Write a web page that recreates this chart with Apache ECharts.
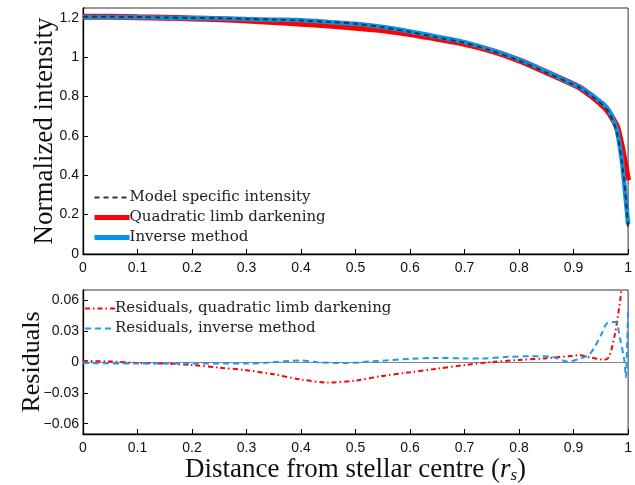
<!DOCTYPE html>
<html><head><meta charset="utf-8">
<script src="https://cdn.jsdelivr.net/npm/echarts@6/dist/echarts.min.js"></script>
<style>html,body{margin:0;padding:0;background:#fff}#c{width:635px;height:485px}</style>
</head><body><div id="c"></div>
<script>
// ---- data ----
const xTop = [0,0.05,0.1,0.15,0.2,0.25,0.3,0.35,0.4,0.45,0.5,0.55,0.6,0.65,0.7,0.75,0.8,0.85,0.9,0.91,0.93,0.95,0.955,0.965,0.975,0.98,0.988,0.995,1.0];
const modelIntensity = [1.205,1.205,1.204,1.202,1.200,1.198,1.195,1.191,1.186,1.179,1.170,1.152,1.128,1.100,1.073,1.032,0.982,0.922,0.860,0.847,0.808,0.765,0.753,0.718,0.655,0.610,0.480,0.310,0.135];
const quadraticLD = [1.206,1.2055,1.203,1.2005,1.197,1.1925,1.187,1.179,1.170,1.161,1.150,1.137,1.118,1.0935,1.068,1.032,0.984,0.924,0.861,0.848,0.809,0.763,0.750,0.718,0.672,0.645,0.552,0.450,0.375];
const inverseMethod = [1.204,1.204,1.2025,1.2005,1.1985,1.1965,1.1935,1.1905,1.1875,1.179,1.1695,1.153,1.131,1.104,1.0765,1.0355,0.987,0.927,0.862,0.850,0.815,0.772,0.762,0.728,0.666,0.622,0.487,0.300,0.150];

const xResQ = [0,0.05,0.1,0.15,0.2,0.25,0.3,0.35,0.4,0.45,0.5,0.55,0.6,0.65,0.7,0.75,0.8,0.85,0.9,0.91,0.93,0.95,0.955,0.965,0.975,0.98,0.988,0.995,1.0];
const resQuadratic = [0.001,0.0005,-0.001,-0.0015,-0.003,-0.0055,-0.008,-0.012,-0.017,-0.020,-0.018,-0.0135,-0.010,-0.0065,-0.003,0.000,0.002,0.0037,0.006,0.0066,0.0045,0.0025,0.002,0.005,0.025,0.040,0.072,0.140,0.240];
const xResI = [0,0.1,0.2,0.3,0.34,0.4,0.43,0.48,0.54,0.6,0.65,0.7,0.73,0.78,0.82,0.86,0.89,0.91,0.927,0.937,0.952,0.961,0.977,0.985,0.993,0.996,0.998,1.0];
const resInverse = [-0.001,-0.0015,-0.0015,-0.0015,-0.0006,0.0015,-0.0003,-0.001,0.001,0.003,0.004,0.0035,0.0035,0.005,0.0056,0.005,0.0003,0.003,0.0066,0.013,0.028,0.0375,0.039,0.023,0.002,-0.015,0.014,0.049];

const resTicks = [-0.06,-0.03,0,0.03,0.06];
const names = ['Model specific intensity','Quadratic limb darkening','Inverse method','Residuals, quadratic limb darkening','Residuals, inverse method'];

const zip = (xs, ys) => xs.map((x,i)=>[x, ys[i]]);
const serif = 'DejaVu Serif';
const titleFont = 'Liberation Serif';
const sans = 'Liberation Sans';

const chart = echarts.init(document.getElementById('c'), null, {renderer:'canvas'});
const axisCommon = {
  axisLine:{onZero:false, lineStyle:{color:'#000', width:1.3}},
  axisTick:{inside:true, length:5, lineStyle:{color:'#000'}},
  splitLine:{show:false},
  axisLabel:{color:'#111', fontFamily:sans, fontSize:14}
};
chart.setOption({
  animation:false,
  grid:[
    {left:83, right:5, top:8, height:246, show:true, borderColor:'#333', borderWidth:1},
    {left:83, right:5, top:290, height:146, show:true, borderColor:'#333', borderWidth:1}
  ],
  xAxis:[
    Object.assign({}, axisCommon, {gridIndex:0, type:'value', min:0, max:1, interval:0.1, axisLabel:Object.assign({}, axisCommon.axisLabel, {margin:7})}),
    Object.assign({}, axisCommon, {gridIndex:1, type:'value', min:0, max:1, interval:0.1, axisLabel:Object.assign({}, axisCommon.axisLabel, {margin:7}),
      name:'{t|Distance from stellar centre (}{i|r}{s|s}{t|)}', nameLocation:'middle', nameGap:21,
      nameTextStyle:{rich:{t:{fontFamily:titleFont, fontSize:27, color:'#111'}, i:{fontFamily:titleFont, fontStyle:'italic', fontSize:27, color:'#111'}, s:{fontFamily:titleFont, fontStyle:'italic', fontSize:17, color:'#111', verticalAlign:'bottom', padding:[12,0,0,0]}}}})
  ],
  yAxis:[
    Object.assign({}, axisCommon, {gridIndex:0, type:'value', min:0, max:1.25, interval:0.2,
      axisLabel:Object.assign({}, axisCommon.axisLabel, {showMaxLabel:false, margin:4}),
      name:'Normalized intensity', nameLocation:'middle', nameGap:25, nameMoveOverlap:false,
      nameTextStyle:{fontFamily:titleFont, fontSize:27, color:'#111'}}),
    Object.assign({}, axisCommon, {gridIndex:1, type:'value', min:-0.07, max:0.07,
      axisLabel:Object.assign({}, axisCommon.axisLabel, {customValues:resTicks, margin:4, formatter:v=>v<0?'\u2212'+Math.abs(v).toFixed(2):(v===0?'0':v.toFixed(2))}),
      axisTick:Object.assign({}, axisCommon.axisTick, {customValues:resTicks}),
      name:'Residuals', nameLocation:'middle', nameGap:38, nameMoveOverlap:false,
      nameTextStyle:{fontFamily:titleFont, fontSize:26, color:'#111'}})
  ],
  legend:[
    {data:[{name:names[0], lineStyle:{width:2}}, {name:names[1], lineStyle:{width:5}}, {name:names[2], lineStyle:{width:5}}],
     orient:'vertical', left:87, top:185, itemWidth:35, itemHeight:10, itemGap:5,
     itemStyle:{opacity:0},
     textStyle:{fontFamily:serif, fontSize:15, color:'#222', padding:[0,0,0,-5]}, selectedMode:false},
    {data:[{name:names[3], lineStyle:{width:2}}, {name:names[4], lineStyle:{width:2}}],
     orient:'vertical', left:79, top:296, itemWidth:30, itemHeight:10, itemGap:5,
     itemStyle:{opacity:0},
     textStyle:{fontFamily:serif, fontSize:15, color:'#222', padding:[0,0,0,-5]}, selectedMode:false}
  ],
  series:[
    {name:names[1], type:'line', xAxisIndex:0, yAxisIndex:0, data:zip(xTop, quadraticLD), symbol:'none', smooth:0.3,
     lineStyle:{color:'#ff0000', width:6}, itemStyle:{color:'#ff0000'}, z:2},
    {name:names[2], type:'line', xAxisIndex:0, yAxisIndex:0, data:zip(xTop, inverseMethod), symbol:'none', smooth:0.3,
     lineStyle:{color:'#0a90ec', width:4.5}, itemStyle:{color:'#0a90ec'}, z:3},
    {name:names[0], type:'line', xAxisIndex:0, yAxisIndex:0, data:zip(xTop, modelIntensity), symbol:'none', smooth:0.3,
     lineStyle:{color:'#333', width:2, type:[5,4]}, itemStyle:{color:'#333'}, z:4},
    {name:names[3], type:'line', xAxisIndex:1, yAxisIndex:1, data:zip(xResQ, resQuadratic), symbol:'none', smooth:0.3,
     lineStyle:{color:'#ff0000', width:2, type:[5,3,1.5,3]}, itemStyle:{color:'#ff0000'}, z:3,
     markLine:{silent:true, symbol:'none', label:{show:false}, lineStyle:{color:'#888', width:1, type:'solid'}, data:[{yAxis:0}], z:1}},
    {name:names[4], type:'line', xAxisIndex:1, yAxisIndex:1, data:zip(xResI, resInverse), symbol:'none', smooth:0.3,
     lineStyle:{color:'#1a9af0', width:2, type:[6,4]}, itemStyle:{color:'#1a9af0'}, z:4}
  ]
});
</script></body></html>
